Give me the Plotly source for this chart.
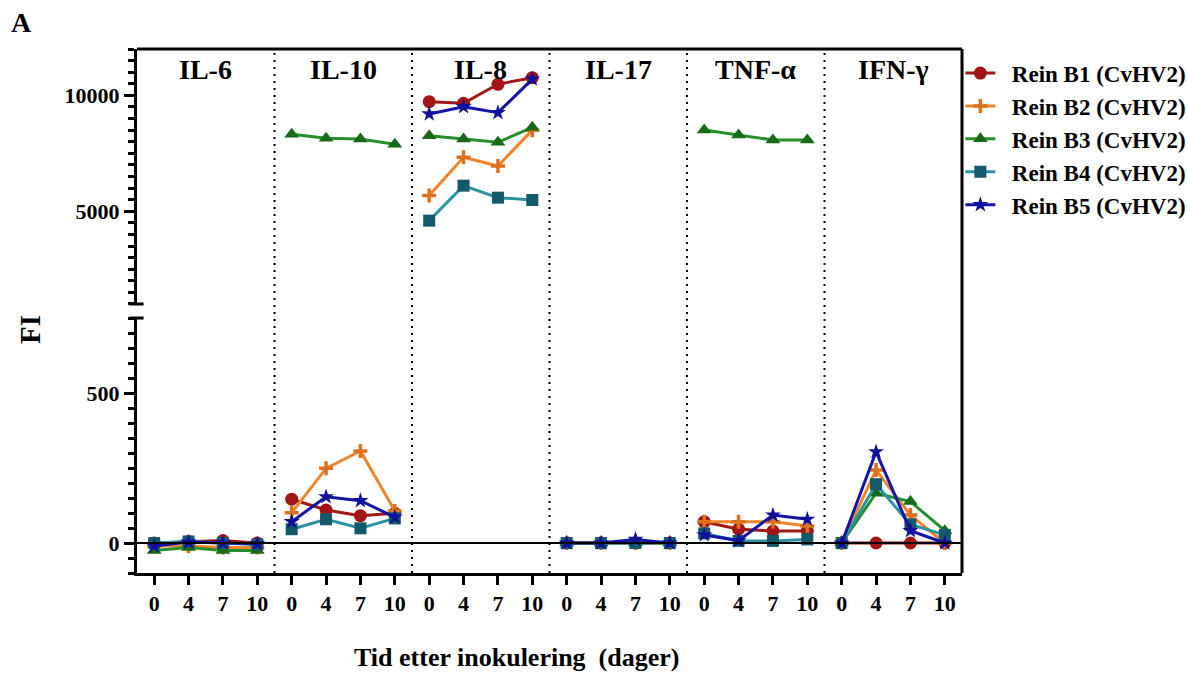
import plotly.graph_objects as go

# ---------------- data ----------------
days = ["0", "4", "7", "10"]
cytokines = ["IL-6", "IL-10", "IL-8", "IL-17", "TNF-α", "IFN-γ"]
series_names = ["Rein B1 (CvHV2)", "Rein B2 (CvHV2)", "Rein B3 (CvHV2)",
                "Rein B4 (CvHV2)", "Rein B5 (CvHV2)"]

# values per cytokine panel, 4 time points each (IL-6, IL-10, IL-8, IL-17, TNF-a, IFN-g)
rein_b1 = [0, 5, 8, 0, 146, 110, 91, 99, 9728, 9658, 10478, 10763,
           0, 0, 0, 0, 71, 46, 40, 40, 0, 0, 0, 0]
rein_b2 = [-10, -10, -15, -15, 101, 249, 307, 107, 5680, 7330, 6950, 8500,
           0, 0, 0, 0, 71, 71, 71, 57, 0, 243, 93, 0]
rein_b3 = [-25, -15, -25, -25, 8321, 8148, 8118, 7890, 8261, 8118, 7976, 8623,
           0, 0, 0, 0, 8506, 8291, 8075, 8075, 0, 166, 138, 41]
rein_b4 = [0, 5, 0, -5, 46, 79, 49, 82, 4594, 6104, 5586, 5487,
           0, 0, 0, 0, 32, 7, 7, 12, 0, 196, 62, 27]
rein_b5 = [-10, 3, 0, -3, 71, 154, 141, 86, 9197, 9512, 9253, 10700,
           0, 0, 12, 0, 27, 8, 93, 79, 0, 304, 41, 0]

all_series = [rein_b1, rein_b2, rein_b3, rein_b4, rein_b5]

# ---------------- styles ----------------
line_colors = ["#a01818", "#f0842c", "#23902a", "#2c93a3", "#1414a6"]
marker_colors = ["#a31414", "#dc721e", "#176a17", "#12596b", "#10109a"]
symbols = ["circle", "cross-thin", "triangle-up", "square", "star"]
sizes = [13, 10, 13, 12, 12]

FONT = "Liberation Serif"
BREAK = 1000  # values above go to the upper (broken) segment

fig = go.Figure()

n_days = len(days)
for si, (name, vals) in enumerate(zip(series_names, all_series)):
    xl, yl, xu, yu = [], [], [], []
    for pi in range(len(cytokines)):
        for di in range(n_days):
            k = pi * n_days + di
            v = vals[k]
            if v >= BREAK:
                xu.append(k); yu.append(v)
            else:
                xl.append(k); yl.append(v)
        xl.append(None); yl.append(None)
        xu.append(None); yu.append(None)
    mk = dict(symbol=symbols[si], size=sizes[si], color=marker_colors[si],
              line=dict(width=3.5 if symbols[si] == "cross-thin" else 0,
                        color=marker_colors[si]))
    ln = dict(color=line_colors[si], width=3)
    fig.add_trace(go.Scatter(x=xl, y=yl, mode="lines+markers",
                             name="\u00a0\u00a0" + name,
                             legendgroup=name, showlegend=True,
                             line=ln, marker=mk, xaxis="x", yaxis="y",
                             connectgaps=False))
    fig.add_trace(go.Scatter(x=xu, y=yu, mode="lines+markers", name=name,
                             legendgroup=name, showlegend=False,
                             line=ln, marker=mk, xaxis="x", yaxis="y2",
                             connectgaps=False))

n_total = len(cytokines) * n_days
tick_font = dict(family=FONT, size=22, color="black", weight="bold")

lower_dom = [0, 0.4866]
upper_dom = [0.5134, 1]

fig.update_layout(
    width=1187, height=675,
    margin=dict(l=137, r=225, t=49, b=102, autoexpand=False),
    paper_bgcolor="white", plot_bgcolor="white",
    font=dict(family=FONT, color="black"),
    xaxis=dict(
        range=[-0.5, n_total - 0.5], anchor="y",
        tickmode="array", tickvals=list(range(n_total)),
        ticktext=days * len(cytokines),
        ticks="outside", ticklen=9, tickwidth=3, tickcolor="black",
        tickfont=tick_font, showgrid=False, zeroline=False,
        showline=True, linewidth=3, linecolor="black",
    ),
    yaxis=dict(
        domain=lower_dom, range=[-100, 750],
        tickmode="array", tickvals=[0, 500], ticktext=["0", "500"],
        ticks="outside", ticklen=10, tickwidth=3, tickcolor="black",
        minor=dict(dtick=50, tick0=0, ticks="outside", ticklen=6,
                   tickwidth=2.5, tickcolor="black", showgrid=False),
        tickfont=tick_font, showgrid=False, zeroline=False,
        showline=True, linewidth=3, linecolor="black",
    ),
    yaxis2=dict(
        domain=upper_dom, range=[1000, 12000], anchor="x",
        tickmode="array", tickvals=[5000, 10000], ticktext=["5000", "10000"],
        ticks="outside", ticklen=10, tickwidth=3, tickcolor="black",
        minor=dict(dtick=500, tick0=0, ticks="outside", ticklen=6,
                   tickwidth=2.5, tickcolor="black", showgrid=False),
        tickfont=tick_font, showgrid=False, zeroline=False,
        showline=True, linewidth=3, linecolor="black",
    ),
    legend=dict(
        x=0.998, xanchor="left", y=0.995, yanchor="top",
        font=dict(family=FONT, size=23, color="black", weight="bold"),
        itemwidth=30, tracegroupgap=0, bgcolor="rgba(0,0,0,0)",
    ),
    showlegend=True,
)

shapes = []
# frame: top and right borders
shapes.append(dict(type="line", xref="paper", yref="paper", x0=0, x1=1, y0=1, y1=1,
                   line=dict(color="black", width=3)))
shapes.append(dict(type="line", xref="paper", yref="paper", x0=1, x1=1, y0=0, y1=1,
                   line=dict(color="black", width=3)))
# break caps on the left axis
for yy in [lower_dom[1], upper_dom[0]]:
    shapes.append(dict(type="line", xref="paper", yref="paper",
                       x0=-0.009, x1=0.008, y0=yy, y1=yy,
                       line=dict(color="black", width=3)))
# zero line
shapes.append(dict(type="line", xref="paper", yref="y", x0=0, x1=1, y0=0, y1=0,
                   line=dict(color="black", width=2)))
# dotted panel separators
for pi in range(1, len(cytokines)):
    xs = pi * n_days - 0.5
    shapes.append(dict(type="line", xref="x", yref="paper", x0=xs, x1=xs, y0=0, y1=1,
                       line=dict(color="black", width=2, dash="2px,5px")))
fig.update_layout(shapes=shapes)

annotations = []
for pi, cname in enumerate(cytokines):
    annotations.append(dict(x=pi * n_days + 1.5, xref="x", y=0.96, yref="paper",
                            text="<b>%s</b>" % cname, showarrow=False,
                            xanchor="center", yanchor="middle",
                            font=dict(family=FONT, size=28, color="black")))

# axis titles and panel label via annotations (paper coords computed from pixels)
plot_l, plot_r, plot_t, plot_b = 137, 962, 49, 573

def px_to_paper(px, py):
    return (px - plot_l) / (plot_r - plot_l), (plot_b - py) / (plot_b - plot_t)

fx, fy = px_to_paper(30, 330)
tx, ty = px_to_paper(516, 657)
ax_, ay_ = px_to_paper(21, 23)
annotations += [
    dict(x=fx, y=fy, xref="paper", yref="paper", text="<b>FI</b>", textangle=-90,
         showarrow=False, xanchor="center", yanchor="middle",
         font=dict(family=FONT, size=29, color="black")),
    dict(x=tx, y=ty, xref="paper", yref="paper",
         text="<b>Tid etter inokulering\u00a0 (dager)</b>",
         showarrow=False, xanchor="center", yanchor="middle",
         font=dict(family=FONT, size=26, color="black")),
    dict(x=ax_, y=ay_, xref="paper", yref="paper", text="<b>A</b>",
         showarrow=False, xanchor="center", yanchor="middle",
         font=dict(family=FONT, size=28, color="black")),
]
fig.update_layout(annotations=annotations)

fig.write_html("out.html")
